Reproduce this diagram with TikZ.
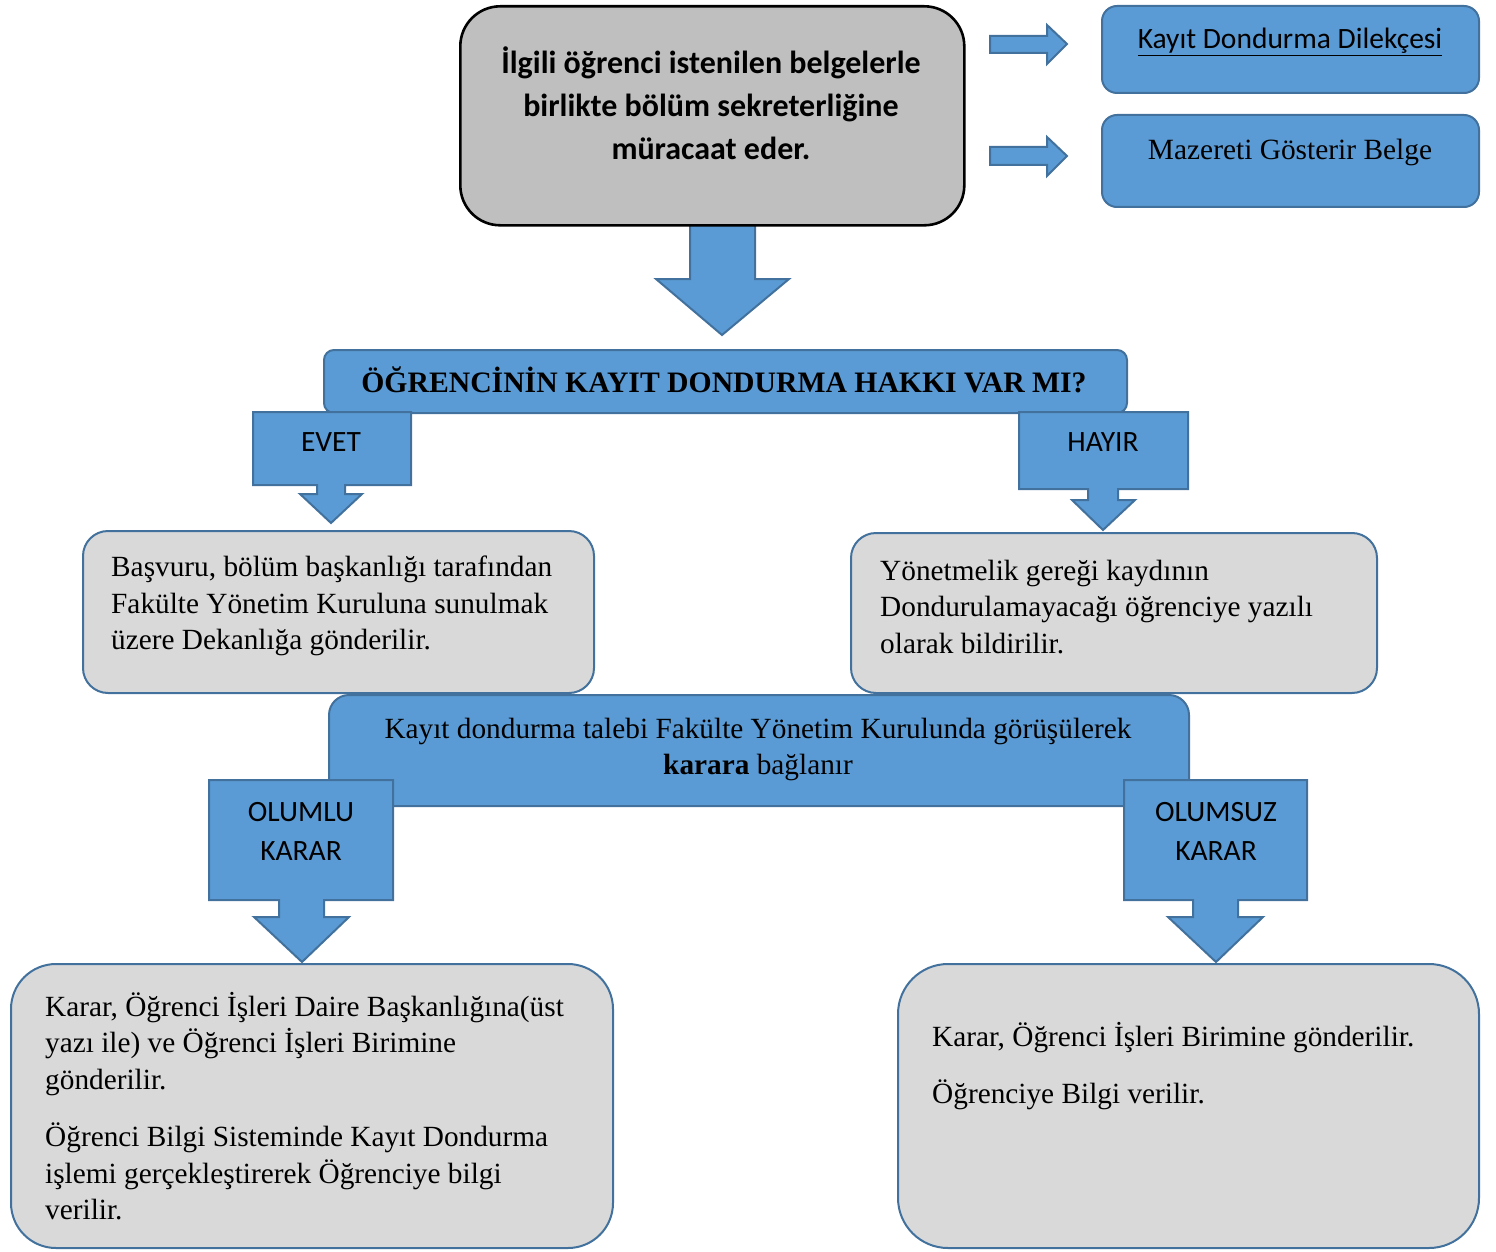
\documentclass[tikz,border=0pt]{standalone}
\usepackage{fontspec}
\setmainfont{Liberation Serif}
\newfontfamily\calfont{Carlito}
\definecolor{bfill}{HTML}{5B9BD5}
\definecolor{bline}{HTML}{41719C}
\definecolor{gtop}{HTML}{BFBFBF}
\definecolor{glight}{HTML}{D9D9D9}
\tikzset{
  bluebox/.style={draw=bline, fill=bfill, line width=2pt},
  lgraybox/.style={draw=bline, fill=glight, line width=2pt},
  serifbody/.style={font=\fontsize{29.3}{36.5}\selectfont, align=left, anchor=west, inner sep=0pt},
  calib/.style={font=\calfont\fontsize{29.5}{39}\selectfont, align=center, inner sep=0pt},
}
\begin{document}
\begin{tikzpicture}[x=1pt,y=-1pt]
\useasboundingbox (0,0) rectangle (1496,1252);

% ---- top down arrow (behind top box)
\draw[bluebox] (690,220) -- (755,220) -- (755,279) -- (789,279) -- (722,335) -- (656,279) -- (690,279) -- cycle;

% ---- top gray box
\node[draw=black, fill=gtop, line width=2.6pt, rounded corners=40pt, minimum width=504pt, minimum height=219pt, anchor=north west, inner sep=0pt] (start) at (459,5) {};
\node[font=\calfont\bfseries\fontsize{32}{43}\selectfont, align=center, inner sep=0pt] (starttxt) at (711,103)
  {İlgili öğrenci istenilen belgelerle\\birlikte bölüm sekreterliğine\\müracaat eder.};

% ---- right arrows
\draw[bluebox] (990,36) -- (1047,36) -- (1047,25) -- (1067,44) -- (1047,64) -- (1047,53) -- (990,53) -- cycle;
\draw[bluebox] (990,147) -- (1047,147) -- (1047,137) -- (1067,156) -- (1047,176) -- (1047,165) -- (990,165) -- cycle;

% ---- document boxes
\node[bluebox, rounded corners=15pt, minimum width=377pt, minimum height=87pt, anchor=north west, inner sep=0pt] (doc1) at (1101,5) {};
\node[font=\calfont\fontsize{29.5}{30}\selectfont, inner sep=0pt] (doc1txt) at (1290,42) {\underline{Kayıt Dondurma Dilekçesi}};
\node[bluebox, rounded corners=15pt, minimum width=377pt, minimum height=92pt, anchor=north west, inner sep=0pt] (doc2) at (1101,114) {};
\node[font=\fontsize{29.4}{30}\selectfont, inner sep=0pt] (doc2txt) at (1290,152) {Mazereti Gösterir Belge};

% ---- question box
\node[bluebox, rounded corners=10pt, minimum width=803pt, minimum height=63pt, anchor=north west, inner sep=0pt] (q) at (323,349) {};
\node[font=\bfseries\fontsize{29.7}{30}\selectfont, inner sep=0pt] (qtxt) at (724,380) {ÖĞRENCİNİN KAYIT DONDURMA HAKKI VAR MI?};

% ---- EVET callout
\draw[bluebox] (253,412) -- (411,412) -- (411,485) -- (345,485) -- (345,494) -- (362,494) -- (331,523) -- (300,494) -- (317,494) -- (317,485) -- (253,485) -- cycle;
\node[calib] (evet) at (331,442) {EVET};

% ---- HAYIR callout
\draw[bluebox] (1019,412) -- (1188,412) -- (1188,489) -- (1118,489) -- (1118,500) -- (1135,500) -- (1103,530) -- (1072,500) -- (1088,500) -- (1088,489) -- (1019,489) -- cycle;
\node[calib] (hayir) at (1103,442) {HAYIR};

% ---- middle gray boxes
\node[lgraybox, rounded corners=25pt, minimum width=511pt, minimum height=162pt, anchor=north west, inner sep=0pt] (yes) at (82,530) {};
\node[serifbody] (yestxt) at (111,606)
  {Başvuru, bölüm başkanlığı tarafından\\Fakülte Yönetim Kuruluna sunulmak\\üzere Dekanlığa gönderilir.};
\node[lgraybox, rounded corners=25pt, minimum width=526pt, minimum height=160pt, anchor=north west, inner sep=0pt] (no) at (850,532) {};
\node[serifbody] (notxt) at (880,607)
  {Yönetmelik gereği kaydının\\Dondurulamayacağı öğrenciye yazılı\\olarak bildirilir.};

% ---- decision box
\node[bluebox, rounded corners=20pt, minimum width=860pt, minimum height=111pt, anchor=north west, inner sep=0pt] (karar) at (328,694) {};
\node[font=\fontsize{29.3}{36.5}\selectfont, align=center, inner sep=0pt] (karartxt) at (758,749.5)
  {Kayıt dondurma talebi Fakülte Yönetim Kurulunda görüşülerek\\\textbf{karara} bağlanır};

% ---- OLUMLU callout
\draw[bluebox] (209,780) -- (393,780) -- (393,900) -- (324,900) -- (324,917) -- (349,917) -- (302,962) -- (254,917) -- (279,917) -- (279,900) -- (209,900) -- cycle;
\node[calib] (olumlu) at (301,831) {OLUMLU\\KARAR};

% ---- OLUMSUZ callout
\draw[bluebox] (1124,780) -- (1307,780) -- (1307,900) -- (1238,900) -- (1238,917) -- (1263,917) -- (1216,962) -- (1168,917) -- (1193,917) -- (1193,900) -- (1124,900) -- cycle;
\node[calib] (olumsuz) at (1216,831) {OLUMSUZ\\KARAR};

% ---- bottom boxes
\node[lgraybox, rounded corners=45pt, minimum width=602pt, minimum height=284pt, anchor=north west, inner sep=0pt] (pos) at (10,963) {};
\node[serifbody] (postxt) at (45,1106)
  {Karar, Öğrenci İşleri Daire Başkanlığına(üst\\yazı ile) ve Öğrenci İşleri Birimine\\gönderilir.\\[21pt]Öğrenci Bilgi Sisteminde Kayıt Dondurma\\işlemi gerçekleştirerek Öğrenciye bilgi\\verilir.};
\node[lgraybox, rounded corners=50pt, minimum width=581pt, minimum height=284pt, anchor=north west, inner sep=0pt] (neg) at (897,963) {};
\node[serifbody] (negtxt) at (932,1066)
  {Karar, Öğrenci İşleri Birimine gönderilir.\\[21pt]Öğrenciye Bilgi verilir.};
\end{tikzpicture}
\end{document}
